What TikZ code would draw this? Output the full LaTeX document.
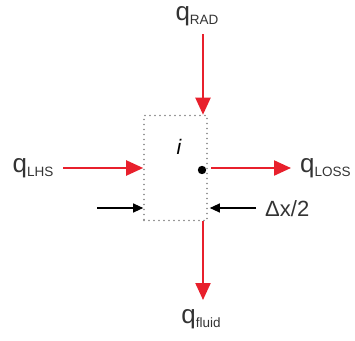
\documentclass[tikz,border=0pt]{standalone}
\usepackage{fontspec}
\setmainfont{Liberation Sans}
\usetikzlibrary{positioning,arrows.meta}
\definecolor{heatred}{RGB}{232,32,44}
\definecolor{dotgray}{RGB}{130,130,130}
\newcommand{\qlab}[1]{{\fontsize{26}{26}\selectfont q}\raisebox{-4pt}{\fontsize{13.5}{14}\selectfont #1}}

\begin{document}
\begin{tikzpicture}[x=1pt, y=-1pt,
    cellbox/.style={draw=dotgray, line width=1.6pt, line cap=round, dash pattern=on 0pt off 5pt, minimum width=63pt, minimum height=105pt, inner sep=0pt},
    flux/.style={-{Triangle[length=17pt, width=15pt]}, heatred, line width=2.2pt},
    dimarrow/.style={-{Triangle[length=10pt, width=9pt]}, black, line width=1.1pt},
    qtext/.style={inner sep=0pt, text=black!80},
]
\useasboundingbox (0,0) rectangle (355,340);

% control volume
\node[cellbox] (cell) at (175.5,168) {};
\node[font=\fontsize{21}{21}\selectfont\itshape] (idx) at (179,147) {i};
\fill (202,170) circle (4.2pt) coordinate (mid);

% labels
\node[qtext] (qrad) at (197,16) {\qlab{RAD}};
\node[qtext] (qlhs) at (33,168) {\qlab{LHS}};
\node[qtext, anchor=west] (qloss) at (300,168) {\qlab{LOSS}};
\node[qtext] (qfluid) at (201,319) {\qlab{fluid}};
\node[qtext, anchor=west, font=\fontsize{22}{22}\selectfont] (dx) at (265,209) {Δx/2};

% heat fluxes
\coordinate (radtop) at (203,34);
\coordinate (lhsend) at (63,168);
\coordinate (lossend) at (291,168);
\coordinate (fluidend) at (203,300);
\draw[flux] (radtop) -- (radtop |- cell.north);
\draw[flux] (lhsend) -- (cell.west);
\draw[flux] (mid) ++(9,-2) coordinate (lossstart) -- (lossend);
\draw[flux] (fluidend |- cell.south) -- (fluidend);

% half width markers
\coordinate (dxl) at (97,208);
\coordinate (dxr) at (256,208);
\draw[dimarrow] (dxl) -- (dxl -| cell.west);
\draw[dimarrow] (dxr) -- ([xshift=2pt]dxr -| cell.east);
\end{tikzpicture}
\end{document}
